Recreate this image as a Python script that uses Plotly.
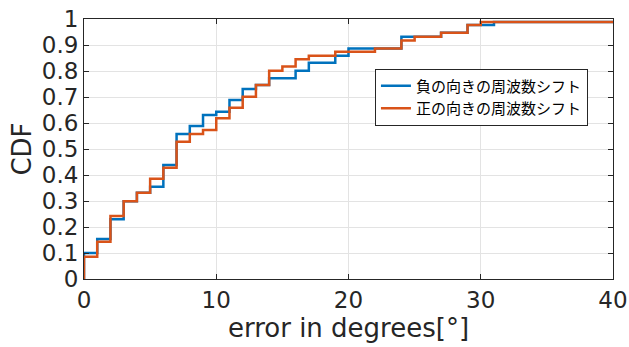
import plotly.graph_objects as go

# Step positions (error in degrees) and CDF values
neg_x = [0, 1, 2, 3, 4, 5, 6, 7, 8, 9, 10, 11, 12, 13, 14, 16, 17, 19, 20, 24, 27, 29, 31, 40]
neg_y = [0.100, 0.154, 0.230, 0.299, 0.332, 0.355, 0.438, 0.558, 0.588, 0.631, 0.643, 0.688,
         0.731, 0.746, 0.772, 0.801, 0.832, 0.859, 0.887, 0.932, 0.947, 0.977, 0.988, 0.988]

pos_x = [0, 1, 2, 3, 4, 5, 6, 7, 8, 9, 10, 11, 12, 13, 14, 15, 16, 17, 19, 22, 24, 25, 27, 29, 30, 40]
pos_y = [0.086, 0.143, 0.242, 0.299, 0.332, 0.386, 0.428, 0.528, 0.558, 0.573, 0.618, 0.659,
         0.701, 0.746, 0.801, 0.817, 0.845, 0.859, 0.874, 0.887, 0.917, 0.932, 0.947, 0.977,
         0.988, 0.988]

series_names = ["負の向きの周波数シフト", "正の向きの周波数シフト"]
series_colors = ["#0072BD", "#D95319"]

x_ticks = [0, 10, 20, 30, 40]
y_ticks = [i / 10 for i in range(11)]
y_tick_labels = ["0", "0.1", "0.2", "0.3", "0.4", "0.5", "0.6", "0.7", "0.8", "0.9", "1"]

fig = go.Figure()
for xs, ys, name, color in [(neg_x, neg_y, series_names[0], series_colors[0]),
                            (pos_x, pos_y, series_names[1], series_colors[1])]:
    fig.add_trace(go.Scatter(
        x=[xs[0]] + xs, y=[0] + ys, mode="lines", name=name,
        line=dict(color=color, width=2.5, shape="hv"),
    ))

axis_common = dict(
    showline=True, linecolor="#262626", linewidth=1, mirror="ticks",
    ticks="inside", ticklen=5, tickcolor="#262626",
    showgrid=True, gridcolor="#E3E3E3", gridwidth=1, zeroline=False,
    automargin=False, ticklabeloverflow="allow",
    tickfont=dict(family="DejaVu Sans", size=23, color="#262626"),
)

fig.update_layout(
    width=629, height=347,
    margin=dict(l=84, r=16, t=19, b=68),
    paper_bgcolor="white", plot_bgcolor="white",
    font=dict(family="DejaVu Sans", color="#262626"),
    xaxis=dict(range=[0, 40], tickvals=x_ticks,
               title=dict(text="error in degrees[°]", font=dict(size=26), standoff=2),
               **axis_common),
    yaxis=dict(range=[0, 1], tickvals=y_ticks, ticktext=y_tick_labels,
               title=dict(text="CDF", font=dict(size=26), standoff=2),
               **axis_common),
    legend=dict(x=0.55, y=0.70, xanchor="left", yanchor="middle",
                bgcolor="white", bordercolor="#262626", borderwidth=1,
                font=dict(family="Noto Sans CJK JP", size=15, color="#000000"),
                tracegroupgap=0, itemwidth=30),
    showlegend=True,
)

# Remove the default page body margin so the figure sits at the window's top-left corner.
fig.write_html("out.html", config={"displayModeBar": False},
               post_script="document.body.style.margin='0';")
